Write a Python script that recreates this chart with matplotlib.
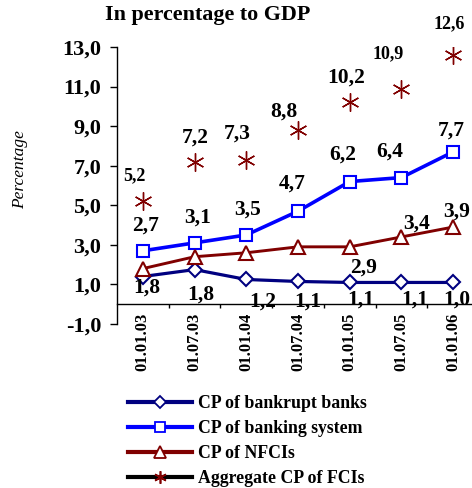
import matplotlib
matplotlib.use("Agg")
import matplotlib.pyplot as plt
from matplotlib.lines import Line2D

plt.rcParams['font.family'] = ['Liberation Serif', 'DejaVu Serif']

categories = ["01.01.03", "01.07.03", "01.01.04", "01.07.04", "01.01.05", "01.07.05", "01.01.06"]
bankrupt = [1.4, 1.75, 1.25, 1.15, 1.1, 1.1, 1.1]
banking = [2.7, 3.1, 3.5, 4.7, 6.2, 6.4, 7.7]
nfci = [1.8, 2.4, 2.6, 2.9, 2.9, 3.4, 3.9]
aggregate = [5.2, 7.2, 7.3, 8.8, 10.2, 10.9, 12.6]

bankrupt_labels = [None, "1,8", "1,2", "1,1", "1,1", "1,1", "1,0"]
banking_labels = ["2,7", "3,1", "3,5", "4,7", "6,2", "6,4", "7,7"]
nfci_labels = ["1,8", None, None, None, "2,9", "3,4", "3,9"]
aggregate_labels = ["5,2", "7,2", "7,3", "8,8", "10,2", "10,9", "12,6"]

yticks = [-1, 1, 3, 5, 7, 9, 11, 13]
ytick_labels = ["-1,0", "1,0", "3,0", "5,0", "7,0", "9,0", "11,0", "13,0"]

NAVY = "#000080"
BLUE = "#0000FF"
DRED = "#800000"

fig = plt.figure(figsize=(4.72, 4.88), dpi=100)
ax = fig.add_axes([117/472, (488-324)/488, 362/472, 277/488])

x = list(range(len(categories)))
ax.plot(x, bankrupt, color=NAVY, lw=2.3, marker='D', ms=7, mfc='white', mec=NAVY, mew=1.5, zorder=3)
ax.plot(x, banking, color=BLUE, lw=2.6, marker='s', ms=9, mfc='white', mec=BLUE, mew=1.5, zorder=3)
ax.plot(x, nfci, color=DRED, lw=2.1, marker='^', ms=10, mfc='white', mec=DRED, mew=1.5, zorder=3)
ax.plot(x, aggregate, linestyle='none', marker=(6, 2, 0), ms=13, mec=DRED, mew=1.0, zorder=3)

def put(labels, vals, offs, sizes):
    for i, (lab, v) in enumerate(zip(labels, vals)):
        if lab is None:
            continue
        dx, dy = offs[i]
        ax.annotate(lab, (i, v), xytext=(dx, -dy), textcoords='offset pixels',
                    ha='center', va='center', fontsize=sizes[i], fontweight='bold',
                    annotation_clip=False, zorder=5)

BIG = 15.5
SMALL = 13
put(aggregate_labels, aggregate,
    [(-8, -26), (1, -24), (-9, -26), (-14, -19), (-4, -25), (-13, -35), (-4, -31)],
    [SMALL, BIG, BIG, BIG, BIG, SMALL, SMALL])
put(banking_labels, banking,
    [(3, -25), (3, -25), (1, -25), (-6, -28), (-7, -27), (-12, -26), (-2, -21)],
    [BIG] * 7)
put(nfci_labels, nfci,
    [(4, 19), None, None, None, (14, 21), (15, -13), (3, -15)],
    [BIG] * 7)
put(bankrupt_labels, bankrupt,
    [None, (6, 25), (16, 22), (10, 20), (11, 17), (13, 17), (4, 17)],
    [BIG] * 7)

ax.set_xlim(-0.5, 6.5)
ax.set_ylim(-1, 13)
ax.spines['top'].set_visible(False)
ax.spines['right'].set_visible(False)
ax.spines['bottom'].set_position(('data', 0))
ax.spines['left'].set_linewidth(1.0)
ax.spines['bottom'].set_linewidth(1.0)

ax.set_yticks(yticks)
ax.set_yticklabels(ytick_labels, fontsize=16, fontweight='bold')
ax.tick_params(axis='y', direction='out', length=5, width=1, pad=6.5)

ax.set_xticks([i + 0.5 for i in range(len(categories))])
ax.set_xticklabels([])
ax.set_xticks(x, minor=True)
ax.set_xticklabels(categories, minor=True, rotation=90, fontsize=12, fontweight='bold', va='top')
ax.tick_params(axis='x', which='major', direction='out', length=3, width=1)
ax.tick_params(axis='x', which='minor', length=0, pad=6)

fig.text(208/472, 1 - 15/488, "In percentage to GDP", ha='center', va='center', fontsize=15.8, fontweight='bold')
fig.text(20/472, 1 - 170/488, "Percentage", ha='center', va='center', rotation=90, fontsize=12.5, fontstyle='italic')

handles = [
    Line2D([], [], color=NAVY, lw=3, marker='D', ms=6, mfc='white', mec=NAVY, mew=1.3),
    Line2D([], [], color=BLUE, lw=3, marker='s', ms=7, mfc='white', mec=BLUE, mew=1.3),
    Line2D([], [], color=DRED, lw=3, marker='^', ms=8, mfc='white', mec=DRED, mew=1.3),
    Line2D([], [], color='black', lw=3, marker=(6, 2, 0), ms=9, mec=DRED, mew=1.2),
]
labels = ["CP of bankrupt banks", "CP of banking system", "CP of NFCIs", "Aggregate CP of FCIs"]
leg = fig.legend(handles, labels, loc='upper left', bbox_to_anchor=(128/472, 1 - 395/488),
                 frameon=False, borderpad=0, borderaxespad=0, handlelength=3.6, handletextpad=0.35,
                 labelspacing=0.45, prop={'family': 'Liberation Serif', 'weight': 'bold', 'size': 12.8})

fig.savefig("out.png", dpi=100)
